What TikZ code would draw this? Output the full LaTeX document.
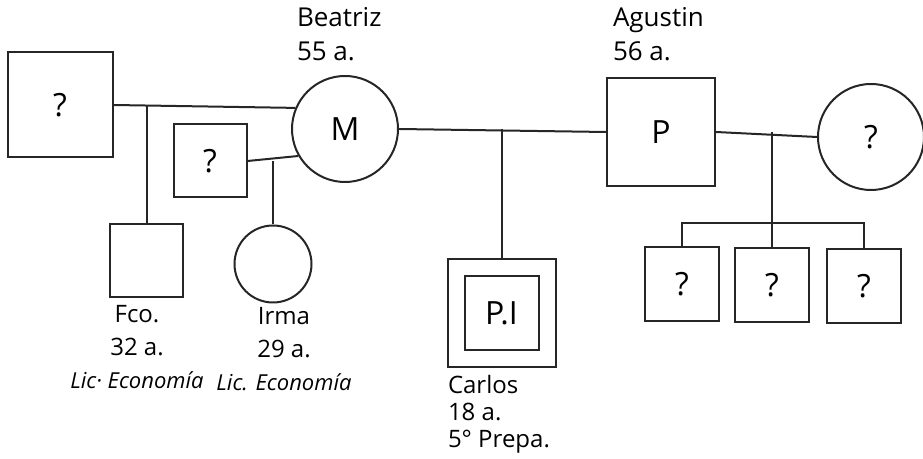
\documentclass[tikz,border=0pt]{standalone}
\usepackage{fontspec}
\setmainfont{Open Sans}
\usetikzlibrary{positioning}

\begin{document}
\begin{tikzpicture}[
    x=0.5pt, y=-0.5pt,
    line width=1pt, draw=black!85,
    male/.style={draw, rectangle, minimum size=#1, inner sep=0pt, font=\fontsize{16}{18}\selectfont},
    male/.default=36.5pt,
    female/.style={draw, circle, minimum size=#1, inner sep=0pt, font=\fontsize{16}{18}\selectfont},
    female/.default=38.5pt,
    nametag/.style={font=\fontsize{13}{17}\selectfont, align=left, inner sep=0pt},
    infotag/.style={font=\fontsize{12}{16.5}\selectfont, align=center, inner sep=0pt}
]
\useasboundingbox (0,0) rectangle (923,459);
% Parents
\node[female=53pt] (M) at (345,129) {M};
\node[male=54pt] (P) at (661,132) {P};
\node[nametag, anchor=north west] (beatriz) at (296,6) {Beatriz\\55 a.};
\node[nametag, anchor=north west] (agustin) at (612,6) {Agustin\\56 a.};
% Earlier partners
\node[male=52.5pt] (exA) at (60,105) {?};
\node[male] (exB) at (210,161) {?};
\node[female=53pt] (exC) at (871,137) {?};
% Half siblings
\node[male] (fco) at (146.5,260.5) {};
\node[female] (irma) at (273,264) {};
\node[male=37pt] (h1) at (682,284) {?};
\node[male=37pt] (h2) at (772,285) {?};
\node[male=37pt] (h3) at (864,286) {?};
% Index patient
\node[male=54pt] (carlos) at (501.5,313) {};
\node[male=37pt] (pi) at (carlos.center) {P.I};
% Labels below
\node[infotag, anchor=north] (fcoinfo) at (137,304) {Fco.\\32 a.\\{\fontsize{11}{16.5}\selectfont\itshape Lic· Economía}};
\node[infotag, anchor=north] (irmainfo) at (284,306) {Irma\\29 a.\\{\fontsize{11}{16.5}\selectfont\itshape Lic. Economía}};
\node[nametag, anchor=north west, font=\fontsize{12}{13.5}\selectfont] (carlosinfo) at (447,374) {Carlos\\18 a.\\5° Prepa.};
% Couples
\draw (exA.east) -- (M.157);
\draw (exB.east) -- (M.210);
\draw (M.east) -- (P.west);
\draw (P.east) -- (exC.west);
% Descent lines
\draw (fco.north) -- (fco.north |- exA.east);
\draw (irma.north) -- (irma.north |- exB.east);
\draw (carlos.north) -- (carlos.north |- M.east);
\coordinate (sib) at (772,223);
\draw (sib) -- (sib |- P.east);
\draw (h1.north) |- (sib) -| (h3.north);
\draw (h2.north) -- (sib);
\end{tikzpicture}
\end{document}
